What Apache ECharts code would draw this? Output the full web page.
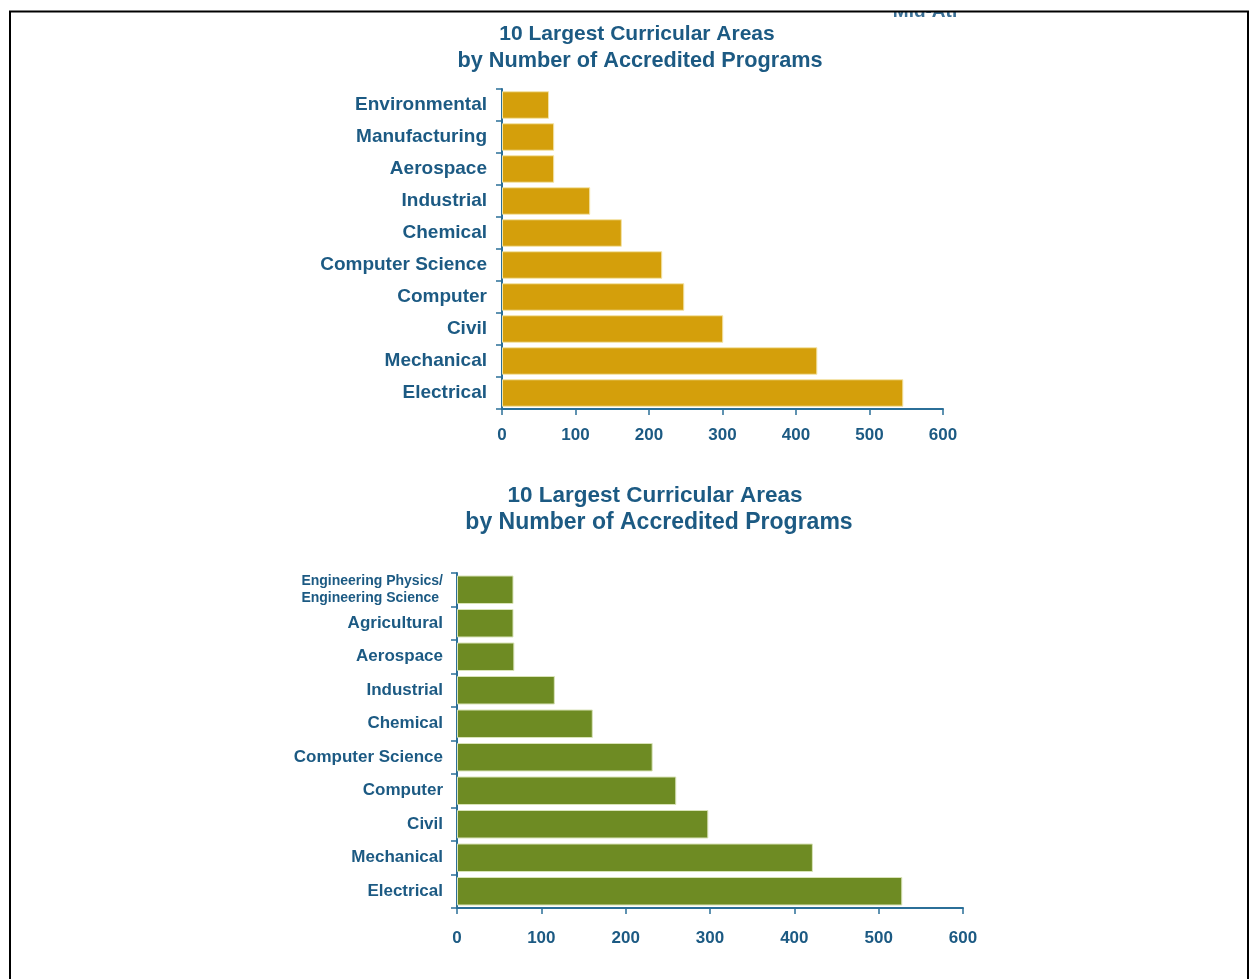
<!DOCTYPE html>
<html>
<head>
<meta charset="utf-8">
<title>10 Largest Curricular Areas by Number of Accredited Programs</title>
<script src="https://cdn.jsdelivr.net/npm/echarts@6/dist/echarts.min.js"></script>
<style>
  html, body { margin: 0; padding: 0; background: #ffffff; }
  #chart { width: 1249px; height: 979px; }
</style>
</head>
<body>
<div id="chart"></div>
<script>
// Upper panel: program areas and counts (listed top to bottom)
const upperAreas = ['Environmental', 'Manufacturing', 'Aerospace', 'Industrial', 'Chemical',
  'Computer Science', 'Computer', 'Civil', 'Mechanical', 'Electrical'];
const upperCounts = [64, 71, 71, 120, 163, 218, 248, 301, 429, 546];

// Lower panel: program areas and counts (listed top to bottom)
const lowerAreas = ['Engineering Physics/\nEngineering Science', 'Agricultural', 'Aerospace', 'Industrial',
  'Chemical', 'Computer Science', 'Computer', 'Civil', 'Mechanical', 'Electrical'];
const lowerCounts = [67, 67, 68, 116, 161, 232, 260, 298, 422, 528];

// Shared value-axis ticks
const tickMin = 0;
const tickMax = 600;
const tickStep = 100;

const titleLine1 = '10 Largest Curricular Areas';
const titleLine2 = 'by Number of Accredited Programs';
const headerText = 'Mid-Atl';

const FONT = '"Liberation Sans", Arial, Helvetica, sans-serif';
const INK = '#1c5a83';
const AXIS = '#2b6f98';
const GOLD = '#d49f0b';
const GREEN = '#6e8b23';

function valueAxis(gridIndex, labelMargin) {
  return {
    type: 'value', gridIndex: gridIndex,
    min: tickMin, max: tickMax, interval: tickStep,
    axisLine: { show: true, lineStyle: { color: AXIS, width: 2 } },
    axisTick: { show: true, length: 6, lineStyle: { color: AXIS, width: 1.5 } },
    axisLabel: { margin: labelMargin, color: INK, fontFamily: FONT, fontWeight: 'bold', fontSize: 17 },
    splitLine: { show: false }
  };
}

function categoryAxis(gridIndex, data, fontSize, labelMargin) {
  return {
    type: 'category', gridIndex: gridIndex, data: data, inverse: true,
    axisLine: { show: true, lineStyle: { color: AXIS, width: 2 } },
    axisTick: { show: true, length: 6, alignWithLabel: false, lineStyle: { color: AXIS, width: 1.5 } },
    axisLabel: {
      margin: labelMargin, color: INK, fontFamily: FONT, fontWeight: 'bold', fontSize: fontSize,
      formatter: function (v) {
        return v.indexOf('\n') >= 0 ? '{s|' + v.split('\n').join('}\n{s|') + '}' : v;
      },
      rich: { s: { fontSize: 14, lineHeight: 17, fontWeight: 'bold', fontFamily: FONT, color: INK, align: 'left' } }
    },
    splitLine: { show: false }
  };
}

function titleText(x, y, text, size) {
  return {
    type: 'text', x: x, y: y, silent: true,
    style: { text: text, fill: INK, font: 'bold ' + size + 'px ' + FONT, align: 'center', verticalAlign: 'middle' }
  };
}

const chart = echarts.init(document.getElementById('chart'), null, { renderer: 'canvas' });

chart.setOption({
  backgroundColor: '#ffffff',
  animation: false,
  grid: [
    { left: 502, right: 306, top: 89, bottom: 570, containLabel: false },
    { left: 457, right: 286, top: 573, bottom: 71, containLabel: false }
  ],
  xAxis: [valueAxis(0, 18), valueAxis(1, 22)],
  yAxis: [categoryAxis(0, upperAreas, 19, 15), categoryAxis(1, lowerAreas, 17, 14)],
  series: [
    {
      type: 'bar', xAxisIndex: 0, yAxisIndex: 0, data: upperCounts,
      barCategoryGap: '14%',
      itemStyle: { color: GOLD, borderColor: '#f3e3a6', borderWidth: 1 }
    },
    {
      type: 'bar', xAxisIndex: 1, yAxisIndex: 1, data: lowerCounts,
      barCategoryGap: '15%',
      itemStyle: { color: GREEN, borderColor: '#d9e3b8', borderWidth: 1 }
    }
  ],
  graphic: [
    // running header, partly hidden behind the page frame
    { type: 'text', x: 925, y: 21, z: 10, silent: true,
      style: { text: headerText, fill: '#3a6f95', font: 'bold 19px ' + FONT, align: 'center', verticalAlign: 'bottom' } },
    { type: 'rect', z: 20, silent: true, shape: { x: 0, y: 0, width: 1249, height: 11 }, style: { fill: '#ffffff' } },
    // page frame: left, top and right edges
    { type: 'polyline', z: 30, silent: true,
      shape: { points: [[10, 979], [10, 11.5], [1248, 11.5], [1248, 979]] },
      style: { stroke: '#000000', lineWidth: 2, fill: null } },
    titleText(637, 34, titleLine1, 21),
    titleText(640, 61, titleLine2, 21.7),
    titleText(655, 496, titleLine1, 22.5),
    titleText(659, 523, titleLine2, 23)
  ]
});
</script>
</body>
</html>
